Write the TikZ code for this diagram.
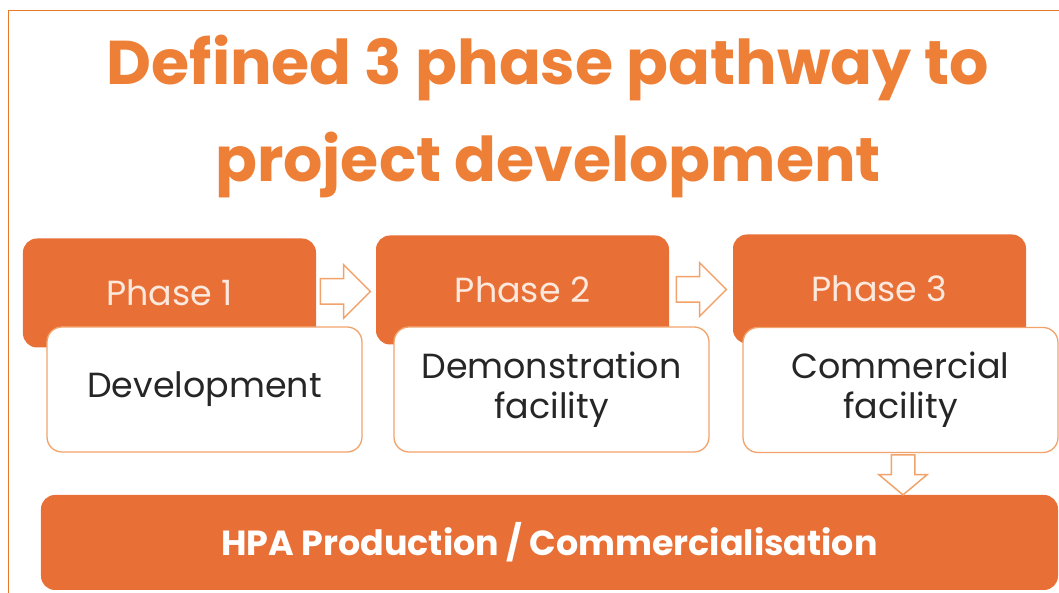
\documentclass[tikz,border=0pt]{standalone}
\usepackage{fontspec}
\setmainfont{Poppins}
\usetikzlibrary{positioning,shapes.arrows,calc}
\definecolor{phaseorange}{HTML}{E86F35}
\definecolor{titleorange}{HTML}{EE7F36}
\definecolor{edgeorange}{HTML}{F2A36B}
\definecolor{frameorange}{HTML}{E8782A}
\definecolor{phasetext}{HTML}{FCE8DC}
\definecolor{stagetext}{HTML}{262626}

\begin{document}
\begin{tikzpicture}[x=1bp,y=1bp,
  phase/.style={fill=phaseorange,draw=none,rounded corners=14bp,minimum width=293bp,minimum height=109bp,text=phasetext,font=\fontsize{35}{40}\selectfont},
  stage/.style={fill=white,draw=edgeorange,line width=1.3bp,rounded corners=15bp,minimum width=315bp,minimum height=125bp,align=center,text=stagetext,font=\fontsize{35}{40}\selectfont},
  hollow/.style={single arrow,draw=edgeorange,fill=white,line width=1.5bp,inner xsep=2bp,inner ysep=12bp,single arrow head extend=14bp,minimum height=50bp}]
%%
\useasboundingbox (0,0) rectangle (1059,593);
\draw [frameorange,line width=1.5bp] (8.5,0) -- (8.5,582.5) -- (1059,582.5);
\node (title1) at (548,508) [anchor=base,text=titleorange,font=\fontsize{62}{70}\selectfont\bfseries] {Defined 3 phase pathway to};
\node (title2) at (548,411) [anchor=base,text=titleorange,font=\fontsize{62}{70}\selectfont\bfseries] {project development};
%
\node (phase1) at (169.5,300) [phase] {Phase 1};
\node (phase2) at (522.5,303) [phase] {Phase 2};
\node (phase3) at (879.5,304) [phase] {Phase 3};
\node (stage1) at (204.5,203.5) [stage] {Development};
\node (stage2) at (551.5,203.5) [stage] {Demonstration\\facility};
\node (stage3) at (900.5,203) [stage] {Commercial\\facility};
\node (hpa) at (549.5,50.5) [fill=phaseorange,rounded corners=14bp,minimum width=1017bp,minimum height=95bp,text=white,font=\fontsize{35}{40}\selectfont\bfseries] {HPA Production / Commercialisation};
%
\node (arrow1) at ($(phase1.east)!0.5!(phase2.west)$) [hollow,xshift=-7bp] {};
\node (arrow2) at ($(phase2.east)!0.5!(phase3.west)$) [hollow,xshift=-6bp] {};
\node (arrow3) at ($(stage3.south)!0.5!(hpa.north -| stage3.south)$) [hollow,xshift=2.5bp,yshift=4bp,rotate=-90,inner ysep=11bp,single arrow tip angle=100,single arrow head extend=12.5bp,minimum height=40bp] {};
%
\end{tikzpicture}
\end{document}
